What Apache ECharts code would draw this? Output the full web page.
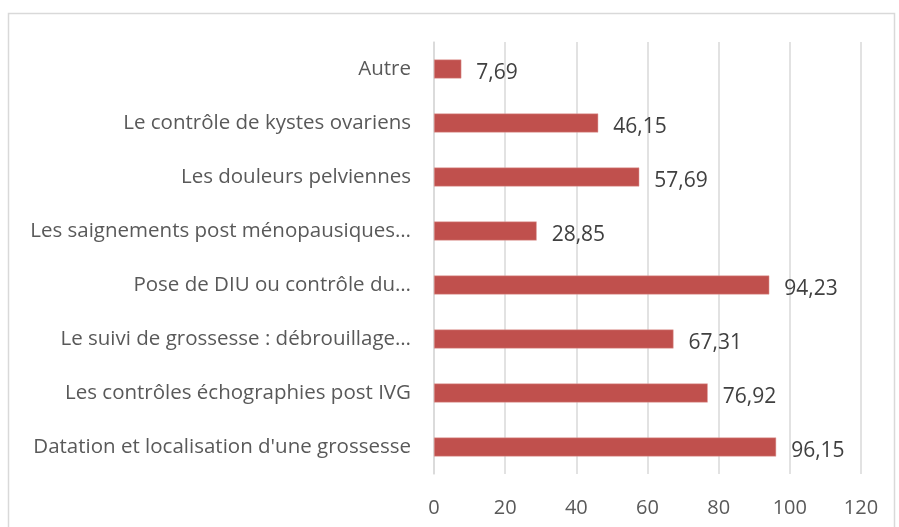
<!DOCTYPE html>
<html>
<head>
<meta charset="utf-8">
<script src="https://cdn.jsdelivr.net/npm/echarts@6/dist/echarts.min.js"></script>
<style>
  html, body { margin: 0; padding: 0; background: #fff; }
  #chart { width: 899px; height: 527px; }
</style>
</head>
<body>
<div id="chart"></div>
<script>
// catégories, de bas en haut
var categories = [
    "Datation et localisation d'une grossesse",
    'Les contrôles échographies post IVG',
    'Le suivi de grossesse : débrouillage…',
    'Pose de DIU ou contrôle du…',
    'Les saignements post ménopausiques…',
    'Les douleurs pelviennes',
    'Le contrôle de kystes ovariens',
    'Autre'
];
var values = [96.15, 76.92, 67.31, 94.23, 28.85, 57.69, 46.15, 7.69];
var xTicks = [0, 20, 40, 60, 80, 100, 120];

var myChart = echarts.init(document.getElementById('chart'));
var font = 'Open Sans';
var option = {
    animation: false,
    graphic: [{
        type: 'rect',
        shape: { x: 8.5, y: 13.5, width: 886, height: 540 },
        style: { fill: 'none', stroke: '#d9d9d9', lineWidth: 1.5 }
    }],
    grid: { left: 434, right: 38, top: 42, bottom: 53 },
    xAxis: {
        type: 'value',
        min: xTicks[0],
        max: xTicks[xTicks.length - 1],
        interval: 20,
        axisLine: { show: false },
        axisTick: { show: false },
        axisLabel: { color: '#595959', fontSize: 20, fontFamily: font, margin: 24 },
        splitLine: { lineStyle: { color: '#d9d9d9', width: 1.5 } }
    },
    yAxis: {
        type: 'category',
        data: categories,
        axisLine: { show: true, lineStyle: { color: '#d9d9d9', width: 1.5 } },
        axisTick: { show: false },
        axisLabel: { color: '#595959', fontSize: 20.5, fontFamily: font, margin: 23 }
    },
    series: [{
        type: 'bar',
        data: values,
        barWidth: 19,
        itemStyle: { color: '#c0504d', borderColor: '#e0a09e', borderWidth: 0.5 },
        label: {
            show: true,
            position: 'right',
            distance: 15,
            offset: [0, 4],
            color: '#404040',
            fontSize: 21,
            fontFamily: font,
            formatter: function (p) { return p.value.toFixed(2).replace('.', ','); }
        }
    }]
};
myChart.setOption(option);
</script>
</body>
</html>
